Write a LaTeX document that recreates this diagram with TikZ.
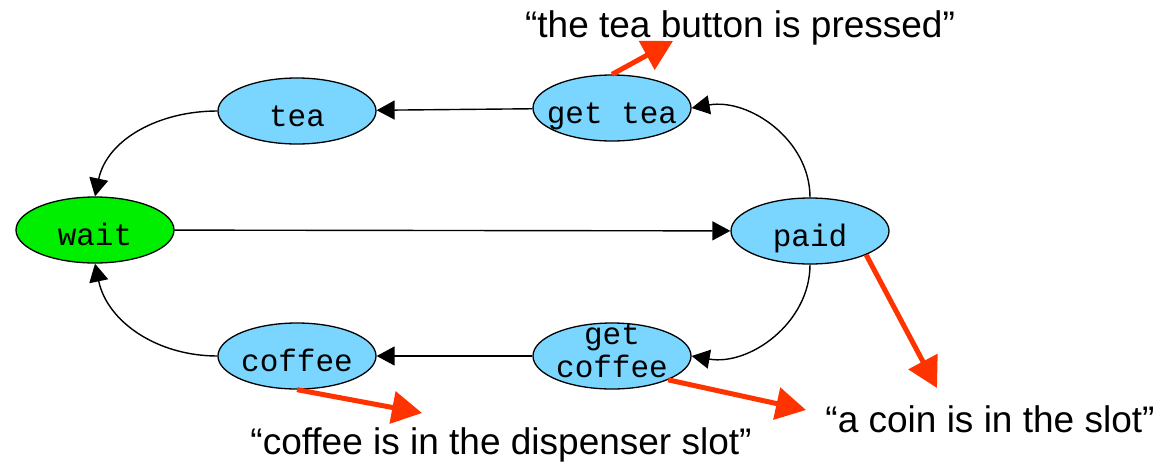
\documentclass[tikz,border=0pt]{standalone}
\usepackage{fontspec}
\setmainfont{Liberation Sans}
\newfontfamily\statefont{Liberation Mono}
\usetikzlibrary{shapes.geometric,arrows.meta}
\definecolor{stateblue}{RGB}{122,213,255}
\definecolor{stategreen}{RGB}{0,238,0}
\definecolor{notered}{RGB}{255,51,0}
\newcommand{\stname}[1]{\makebox[0pt]{#1}}
\tikzset{
  stateshape/.style={ellipse,draw=black,line width=1.3pt,fill=stateblue,minimum width=158pt,minimum height=66pt,inner sep=0pt,
    font=\statefont\fontsize{31}{33}\selectfont},
  state/.style={stateshape,text height=30pt,text depth=0pt},
  trans/.style={line width=1.4pt,-{Triangle[length=18pt,width=19pt]}},
  note/.style={line width=5pt,draw=notered,-{Triangle[length=30pt,width=32pt,fill=notered]}},
  quote/.style={anchor=base,font=\fontsize{37}{40}\selectfont,inner sep=0pt}
}
\begin{document}
\begin{tikzpicture}[x=1pt,y=1pt]
\useasboundingbox (0,0) rectangle (1160,-464);
\node[state,fill=stategreen] (wait) at (95,-230) {\stname{wait}};
\node[state] (tea) at (297,-111) {\stname{tea}};
\node[state] (gettea) at (612,-108) {\stname{get tea}};
\node[state] (paid) at (810,-231) {\stname{paid}};
\node[stateshape,label={[font=\statefont\fontsize{31}{33}\selectfont,align=center,yshift=5pt]center:get\\coffee}] (getcoffee) at (612,-356) {};
\node[state] (coffee) at (297,-356) {\stname{coffee}};

\draw[trans] (wait) -- (paid);
\draw[trans] (paid.north) to[out=90,in=10] (gettea.east);
\draw[trans] (gettea) -- (tea);
\draw[trans] (tea.west) to[out=180,in=78] (wait.north);
\draw[trans] (paid.south) to[out=-90,in=-10] (getcoffee.east);
\draw[trans] (getcoffee) -- (coffee);
\draw[trans] (coffee.west) to[out=180,in=-78] (wait.south);

\node[quote] (qtea) at (740,-37) {“the tea button is pressed”};
\node[quote] (qcoffee) at (501,-454) {“coffee is in the dispenser slot”};
\node[quote] (qcoin) at (990,-432) {“a coin is in the slot”};

\coordinate (ttea) at (673,-41);
\coordinate (tpaid) at (937,-388);
\coordinate (tgetcoffee) at (806,-410);
\coordinate (tcoffee) at (422,-413);
\draw[note] (gettea.north) -- (ttea);
\draw[note] (paid.-23) -- (tpaid);
\draw[note] (getcoffee.-23) -- (tgetcoffee);
\draw[note] (coffee.south) -- (tcoffee);
\end{tikzpicture}
\end{document}
